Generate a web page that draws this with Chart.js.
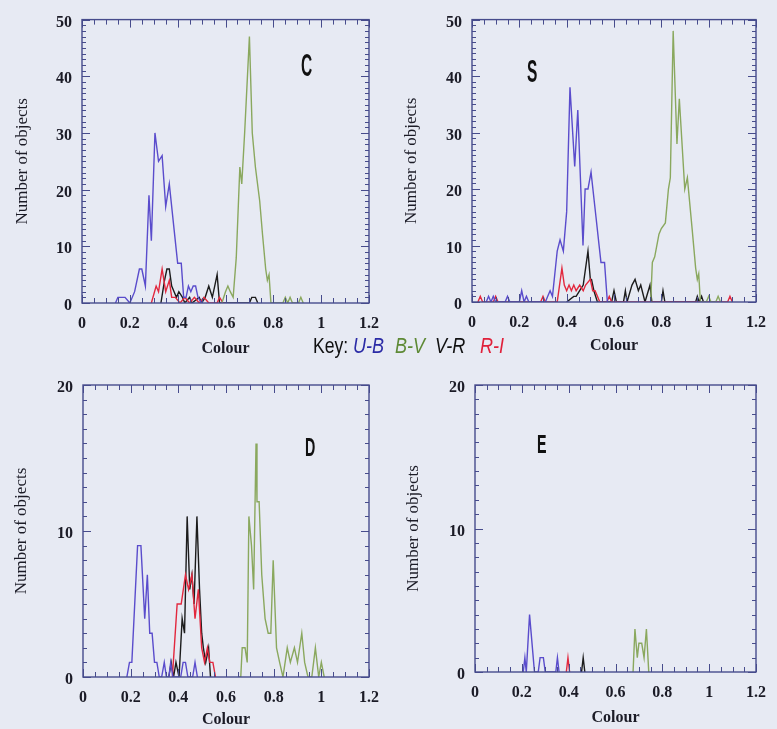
<!DOCTYPE html>
<html><head><meta charset="utf-8">
<script src="https://cdn.jsdelivr.net/npm/chart.js@4.4.0/dist/chart.umd.min.js"></script>
<style>
html,body{margin:0;padding:0;background:#e7eaf3;}
body{width:777px;height:729px;position:relative;overflow:hidden;}
canvas{position:absolute;}
.t{position:absolute;font-family:"Liberation Sans",Arial,sans-serif;transform-origin:left top;white-space:nowrap;line-height:1;}
</style></head><body>
<canvas id="cC" width="390" height="365" style="left:0px;top:0px"></canvas>
<canvas id="cS" width="387" height="365" style="left:390px;top:0px"></canvas>
<canvas id="cD" width="390" height="364" style="left:0px;top:365px"></canvas>
<canvas id="cE" width="387" height="364" style="left:390px;top:365px"></canvas>

<div class="t" style="left:301px;top:50px;font-size:31px;font-weight:bold;transform:scaleX(0.5);color:#111">C</div>
<div class="t" style="left:527px;top:56px;font-size:31px;font-weight:bold;transform:scaleX(0.5);color:#111">S</div>
<div class="t" style="left:305px;top:434px;font-size:26px;font-weight:bold;transform:scaleX(0.55);color:#111">D</div>
<div class="t" style="left:537px;top:431px;font-size:26px;font-weight:bold;transform:scaleX(0.55);color:#111">E</div>

<div class="t" style="left:313px;top:335px;font-size:22px;transform:scaleX(0.8);color:#111">Key:</div>
<div class="t" style="left:353px;top:335px;font-size:22px;transform:scaleX(0.82);color:#2b2ba6;font-style:italic">U-B</div>
<div class="t" style="left:395px;top:335px;font-size:22px;transform:scaleX(0.82);color:#5e8a36;font-style:italic">B-V</div>
<div class="t" style="left:435px;top:335px;font-size:22px;transform:scaleX(0.82);color:#111;font-style:italic">V-R</div>
<div class="t" style="left:480px;top:335px;font-size:22px;transform:scaleX(0.82);color:#e0203a;font-style:italic">R-I</div>

<script>
// ---------- tick labels ----------
const xTickValues = [0, 0.2, 0.4, 0.6, 0.8, 1.0, 1.2];
const xTickLabels = ['0', '0.2', '0.4', '0.6', '0.8', '1', '1.2'];
const yTickValuesTop = [0, 10, 20, 30, 40, 50];
const yTickLabelsTop = ['0', '10', '20', '30', '40', '50'];
const yTickValuesBottom = [0, 10, 20];
const yTickLabelsBottom = ['0', '10', '20'];
const seriesNames = ['U-B', 'B-V', 'V-R', 'R-I'];

// ---------- Panel C ----------
const C_UB_x = [0.14,0.15,0.18,0.20,0.22,0.24,0.25,0.265,0.28,0.29,0.305,0.32,0.335,0.35,0.365,0.385,0.40,0.415,0.425,0.435,0.445,0.455,0.465,0.475,0.485,0.50];
const C_UB_y = [0,1,1,0,2,6,6,3,19,11,30,25,26,17,21,13,7,7,1,1,3,2,3,3,1,0];
const C_BV_x = [0.585,0.60,0.61,0.62,0.632,0.645,0.66,0.668,0.68,0.70,0.712,0.725,0.743,0.755,0.768,0.775,0.782,0.79,0.84,0.85,0.86,0.87,0.88,0.905,0.915,0.925];
const C_BV_y = [0,2,3,2,1,8,24,21,30,47,30,24,18,12,6,4,5,0,0,1,0,1,0,0,1,0];
const C_VR_x = [0.33,0.345,0.355,0.365,0.375,0.385,0.395,0.405,0.42,0.43,0.45,0.46,0.49,0.50,0.515,0.53,0.545,0.565,0.575,0.70,0.71,0.725,0.735];
const C_VR_y = [0,4,6,6,3,2,1,2,1,0,1,0,1,0,1,3,1,5,0,0,1,1,0];
const C_RI_x = [0.29,0.31,0.32,0.335,0.35,0.365,0.375,0.39,0.41,0.43,0.45,0.47,0.49,0.51,0.53,0.565,0.575,0.59];
const C_RI_y = [0,3,2,6,2,4,1,1,0,1,0,1,0,1,0,0,1,0];

// ---------- Panel S ----------
const S_UB_x = [0.06,0.07,0.08,0.09,0.10,0.14,0.15,0.16,0.20,0.21,0.22,0.23,0.24,0.31,0.32,0.33,0.34,0.35,0.36,0.372,0.386,0.40,0.414,0.434,0.447,0.469,0.478,0.49,0.503,0.524,0.537,0.545,0.56,0.572];
const S_UB_y = [0,1,0,1,0,0,1,0,0,2,0,1,0,0,1,2,1,5,9,11,9,16,38,24,34,10,20,20,23,15,10,7,7,0];
const S_BV_x = [0.755,0.762,0.772,0.79,0.80,0.817,0.83,0.838,0.85,0.866,0.876,0.899,0.91,0.93,0.945,0.952,0.958,0.965,0.99,1.0,1.01,1.03,1.04,1.05];
const S_BV_y = [0,7,8,12,13,14,20,22,48,28,36,20,22,13,6,4,5,0,0,1,0,0,1,0];
const S_VR_x = [0.40,0.43,0.44,0.455,0.47,0.49,0.50,0.505,0.515,0.53,0.59,0.60,0.61,0.64,0.648,0.655,0.676,0.689,0.703,0.713,0.731,0.745,0.752,0.76,0.80,0.807,0.815,0.945,0.952,0.96,0.97,0.978];
const S_VR_y = [0,1,1,2,3,9,4,4,2,0,0,2,0,0,2,0,3,4,2,3,0,2,3,0,0,2,0,0,1,0,1,0];
const S_RI_x = [0.025,0.035,0.045,0.09,0.10,0.11,0.29,0.30,0.31,0.36,0.38,0.39,0.40,0.41,0.42,0.43,0.44,0.455,0.47,0.48,0.50,0.51,0.52,0.53,0.54,0.57,0.58,0.59,1.08,1.09,1.10];
const S_RI_y = [0,1,0,0,1,0,0,1,0,0,6,3,2,3,2,3,2,3,2,3,4,2,2,1,0,0,1,0,0,1,0];

// ---------- Panel D ----------
const D_UB_x = [0.184,0.195,0.205,0.229,0.243,0.259,0.27,0.28,0.29,0.30,0.31,0.32,0.33,0.341,0.35,0.36,0.368,0.377,0.41,0.42,0.43,0.44,0.46,0.47,0.48];
const D_UB_y = [0,1,1,9,9,4,7,3,3,1,1,0,0,1,0,0,1,0,0,1,1,0,0,1,0];
const D_BV_x = [0.655,0.662,0.668,0.68,0.689,0.696,0.707,0.716,0.726,0.73,0.739,0.75,0.764,0.777,0.788,0.798,0.812,0.825,0.839,0.857,0.87,0.887,0.90,0.918,0.93,0.944,0.96,0.975,0.989,1.0,1.012];
const D_BV_y = [0,0,2,2,1,11,9,6,16,12,12,7,4,3,3,8,2,1,0,2,1,2,1,3,1,0,0,2,0,1,0];
const D_VR_x = [0.36,0.37,0.38,0.39,0.403,0.416,0.426,0.437,0.448,0.457,0.466,0.478,0.489,0.498,0.505,0.515,0.527,0.535];
const D_VR_y = [0,1,0,1,0,4,3,11,6,7,5,11,6,3,2,1,2,0];
const D_RI_x = [0.375,0.395,0.412,0.43,0.443,0.457,0.47,0.484,0.498,0.51,0.522,0.532,0.545,0.556];
const D_RI_y = [0,5,5,7,6,7,4,6,2,1,2,1,1,0];

// ---------- Panel E ----------
const E_UB_x = [0.206,0.213,0.219,0.233,0.254,0.27,0.278,0.292,0.30,0.345,0.352,0.359];
const E_UB_y = [0,1,0,4,0,0,1,1,0,0,1,0];
const E_BV_x = [0.675,0.683,0.693,0.70,0.712,0.722,0.732,0.742];
const E_BV_y = [0,3,1,2,2,1,3,0];
const E_VR_x = [0.455,0.462,0.469];
const E_VR_y = [0,1,0];
const E_RI_x = [0.39,0.397,0.404];
const E_RI_y = [0,1,0];

// ---------- styles ----------
const COL = {ub:'#5a4ccc', bv:'#8aa85e', vr:'#1c1c1c', ri:'#e2283e'};
const FRAME = '#474c8c';
const TXT = '#1b1b26';

const frameTicks = {
  id: 'frameTicks',
  afterDatasetsDraw(chart) {
    const {ctx, chartArea: a, scales: {x, y}} = chart;
    const o = chart.options.plugins.frameTicks;
    ctx.save();
    ctx.strokeStyle = FRAME;
    ctx.lineWidth = 1;
    ctx.beginPath();
    for (let i = 0; i <= 24; i++) {
      const px = Math.round(x.getPixelForValue(i * 0.05)) + 0.5;
      const len = (i % 4 === 0) ? 8 : 5;
      ctx.moveTo(px, a.bottom); ctx.lineTo(px, a.bottom - len);
      ctx.moveTo(px, a.top); ctx.lineTo(px, a.top + len);
    }
    for (let v = 0; v <= o.yMax; v += 1) {
      const py = Math.round(y.getPixelForValue(v)) + 0.5;
      const len = (v % 10 === 0) ? 8 : 4;
      ctx.moveTo(a.left, py); ctx.lineTo(a.left + len, py);
      ctx.moveTo(a.right, py); ctx.lineTo(a.right - len, py);
    }
    ctx.stroke();
    ctx.lineWidth = 1.4;
    ctx.strokeRect(a.left, a.top, a.right - a.left, a.bottom - a.top);
    ctx.restore();
  }
};

function pts(xs, ys) { return xs.map((v, i) => ({x: v, y: ys[i]})); }

function makePanel(id, g, series, yMax, yVals, yLabs, yTitlePad, xTitlePad) {
  const ds = series.map(s => ({
    label: s.name, data: pts(s.x, s.y), borderColor: s.c, borderWidth: 1.4,
    pointRadius: 0, fill: false, tension: 0
  }));
  new Chart(document.getElementById(id), {
    type: 'line',
    data: {datasets: ds},
    plugins: [frameTicks],
    options: {
      responsive: false, animation: false, devicePixelRatio: 1,
      layout: {padding: {left: 0, top: g.T - g.y, right: g.x + g.w - g.R, bottom: 0}},
      plugins: {legend: {display: false}, tooltip: {enabled: false}, frameTicks: {yMax: yMax}},
      scales: {
        x: {
          type: 'linear', min: 0, max: 1.2,
          afterBuildTicks: sc => { sc.ticks = xTickValues.map(v => ({value: v})); },
          afterFit: sc => { sc.height = g.y + g.h - g.B; },
          grid: {display: false, drawTicks: false}, border: {display: false},
          ticks: {autoSkip: false, maxRotation: 0, padding: 11, color: TXT,
                  font: {family: '"Liberation Serif", "Times New Roman", serif', size: 16, weight: 'bold'},
                  callback: (v, i) => xTickLabels[i]},
          title: {display: true, text: 'Colour', color: TXT, padding: {top: 0, bottom: xTitlePad},
                  font: {family: '"Liberation Serif", "Times New Roman", serif', size: 16, weight: 'bold'}}
        },
        y: {
          type: 'linear', min: 0, max: yMax,
          afterBuildTicks: sc => { sc.ticks = yVals.map(v => ({value: v})); },
          afterFit: sc => { sc.width = g.L - g.x; },
          grid: {display: false, drawTicks: false}, border: {display: false},
          ticks: {autoSkip: false, padding: 10, labelOffset: 3, color: TXT,
                  font: {family: '"Liberation Serif", "Times New Roman", serif', size: 16, weight: 'bold'},
                  callback: (v, i) => yLabs[i]},
          title: {display: true, text: 'Number of objects', color: TXT, padding: {top: yTitlePad, bottom: 0},
                  font: {family: '"Liberation Serif", "Times New Roman", serif', size: 17}}
        }
      }
    }
  });
}

function ser(ubx, uby, bvx, bvy, vrx, vry, rix, riy) {
  return [
    {name: seriesNames[0], x: ubx, y: uby, c: COL.ub},
    {name: seriesNames[1], x: bvx, y: bvy, c: COL.bv},
    {name: seriesNames[3], x: rix, y: riy, c: COL.ri},
    {name: seriesNames[2], x: vrx, y: vry, c: COL.vr}
  ];
}

makePanel('cC', {x:0, y:0, w:390, h:365, L:82, T:15, R:372, B:303},
  ser(C_UB_x, C_UB_y, C_BV_x, C_BV_y, C_VR_x, C_VR_y, C_RI_x, C_RI_y),
  50, yTickValuesTop, yTickLabelsTop, 12, 7);
makePanel('cS', {x:390, y:0, w:387, h:365, L:472, T:15, R:762, B:302},
  ser(S_UB_x, S_UB_y, S_BV_x, S_BV_y, S_VR_x, S_VR_y, S_RI_x, S_RI_y),
  50, yTickValuesTop, yTickLabelsTop, 11, 10);
makePanel('cD', {x:0, y:365, w:390, h:364, L:83, T:385, R:377, B:677},
  ser(D_UB_x, D_UB_y, D_BV_x, D_BV_y, D_VR_x, D_VR_y, D_RI_x, D_RI_y),
  20, yTickValuesBottom, yTickLabelsBottom, 11, 0);
makePanel('cE', {x:390, y:365, w:387, h:364, L:475, T:385, R:767, B:672},
  ser(E_UB_x, E_UB_y, E_BV_x, E_BV_y, E_VR_x, E_VR_y, E_RI_x, E_RI_y),
  20, yTickValuesBottom, yTickLabelsBottom, 13, 2);
</script>
</body></html>
